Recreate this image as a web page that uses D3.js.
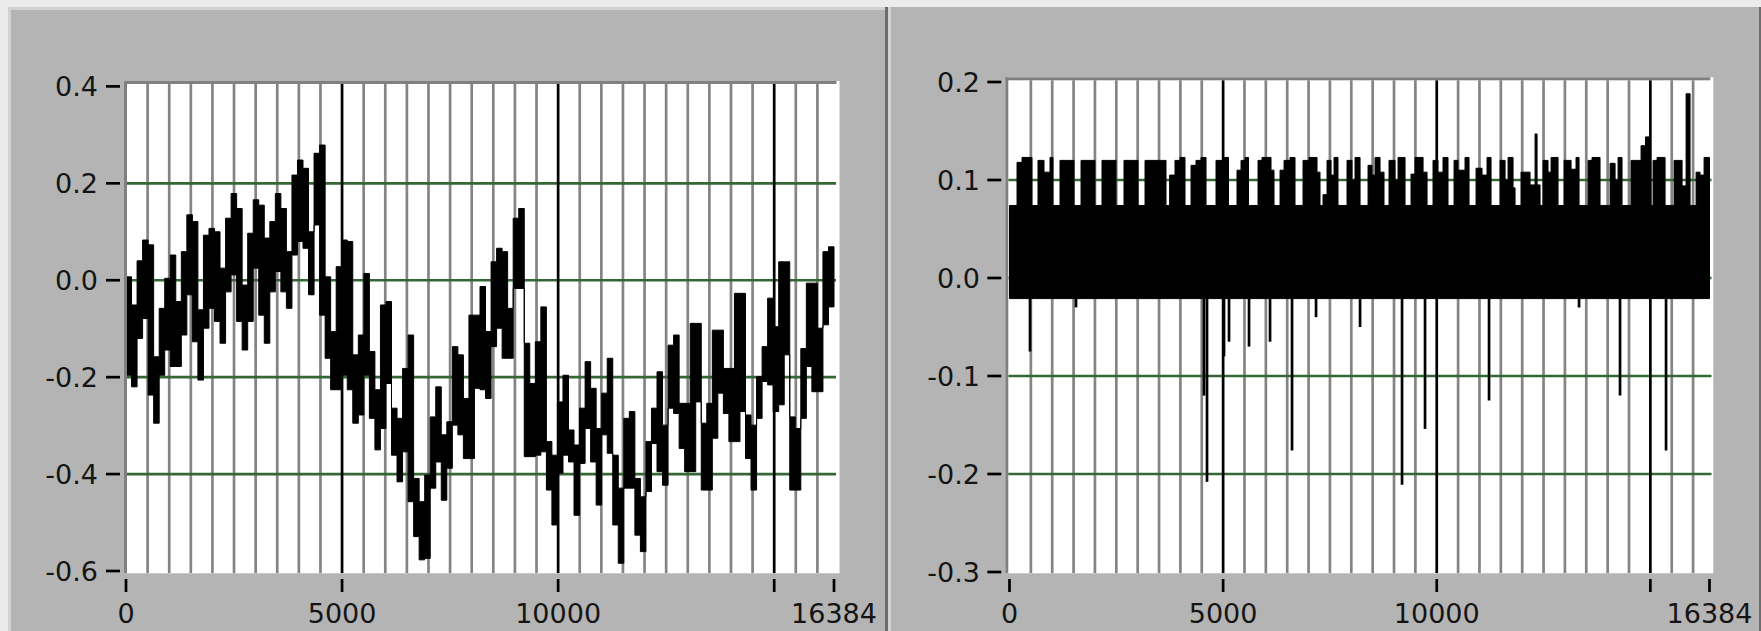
<!DOCTYPE html>
<html>
<head>
<meta charset="UTF-8">
<title>Waveform graphs</title>
<style>
  body { margin: 0; background: #ebebeb; }
  svg { display: block; }
  text { font-family: "DejaVu Sans", sans-serif; font-size: 27px; fill: #141414; }
</style>
</head>
<body>
<svg id="chart" width="1761" height="631"></svg>
<script src="https://cdn.jsdelivr.net/npm/d3@7"></script>
<script>
// record length and envelope bin size (samples)
const nSamples = 16384;
const binSize = 128;

// left graph: max / min of the trace in each 128-sample bin
const leftMax = [
  0.007, -0.051, 0.040, 0.083, 0.073, -0.158, -0.058, 0.004, 0.052, -0.044, 0.059, 0.135, 0.121, -0.061, 0.093, 0.107,
  0.100, 0.025, 0.128, 0.179, 0.148, -0.010, 0.097, 0.166, 0.155, 0.087, 0.121, 0.179, 0.148, 0.059, 0.217, 0.248,
  0.231, 0.100, 0.262, 0.279, 0.007, -0.106, 0.028, 0.083, 0.080, -0.154, -0.113, 0.014, -0.147, -0.226, -0.051, -0.044,
  -0.264, -0.285, -0.182, -0.113, -0.409, -0.457, -0.402, -0.282, -0.220, -0.319, -0.292, -0.137, -0.154, -0.244, -0.072, -0.072,
  -0.013, -0.106, 0.038, 0.066, 0.059, -0.058, 0.128, 0.148, -0.130, -0.213, -0.127, -0.055, -0.333, -0.361, -0.251, -0.196,
  -0.309, -0.340, -0.264, -0.168, -0.223, -0.306, -0.233, -0.161, -0.361, -0.429, -0.285, -0.271, -0.409, -0.447, -0.333, -0.264,
  -0.189, -0.299, -0.134, -0.113, -0.254, -0.254, -0.089, -0.089, -0.295, -0.254, -0.103, -0.103, -0.182, -0.182, -0.027, -0.027,
  -0.278, -0.299, -0.199, -0.137, -0.037, -0.096, 0.038, 0.038, -0.282, -0.306, -0.141, -0.006, -0.006, -0.099, 0.059, 0.069
];
const leftMin = [
  -0.196, -0.220, -0.120, -0.079, -0.237, -0.295, -0.196, -0.144, -0.178, -0.178, -0.113, -0.030, -0.127, -0.206, -0.099, -0.058,
  -0.085, -0.130, -0.024, 0.011, -0.085, -0.144, -0.085, 0.025, -0.072, -0.130, -0.024, 0.018, -0.024, -0.058, 0.052, 0.080,
  0.066, -0.030, 0.114, -0.072, -0.161, -0.226, -0.226, -0.196, -0.226, -0.295, -0.278, -0.196, -0.285, -0.350, -0.306, -0.213,
  -0.361, -0.416, -0.354, -0.457, -0.529, -0.577, -0.574, -0.429, -0.375, -0.454, -0.388, -0.299, -0.319, -0.368, -0.368, -0.223,
  -0.226, -0.244, -0.137, -0.099, -0.161, -0.161, -0.017, -0.017, -0.364, -0.364, -0.361, -0.354, -0.433, -0.505, -0.398, -0.361,
  -0.375, -0.485, -0.378, -0.306, -0.375, -0.464, -0.319, -0.357, -0.505, -0.584, -0.429, -0.429, -0.526, -0.560, -0.436, -0.337,
  -0.395, -0.423, -0.264, -0.275, -0.347, -0.395, -0.395, -0.251, -0.433, -0.433, -0.326, -0.233, -0.275, -0.333, -0.333, -0.271,
  -0.368, -0.433, -0.285, -0.209, -0.216, -0.271, -0.257, -0.154, -0.433, -0.433, -0.285, -0.178, -0.230, -0.230, -0.092, -0.055
];

// right graph: dense band between these two levels
const rightBandLow = -0.021;
// upper edge of the right trace: [sample where it changes, new level]
const rightTop = [
  [0, 0.074], [176, 0.118], [293, 0.123], [527, 0.074], [667, 0.120], [808, 0.108], [948, 0.123], [1018, 0.074],
  [1182, 0.120], [1510, 0.074], [1674, 0.120], [2001, 0.074], [2165, 0.120], [2493, 0.074], [2680, 0.120], [3008, 0.074],
  [3172, 0.120], [3663, 0.074], [3748, 0.105], [3874, 0.120], [3991, 0.123], [4108, 0.074], [4249, 0.115], [4365, 0.120],
  [4483, 0.123], [4600, 0.074], [4834, 0.120], [5021, 0.123], [5126, 0.074], [5325, 0.110], [5419, 0.120], [5513, 0.123],
  [5594, 0.074], [5817, 0.120], [5910, 0.123], [6121, 0.110], [6191, 0.074], [6332, 0.110], [6426, 0.120], [6566, 0.123],
  [6683, 0.074], [6870, 0.120], [7011, 0.123], [7198, 0.108], [7268, 0.074], [7338, 0.085], [7432, 0.120], [7526, 0.105],
  [7596, 0.123], [7689, 0.074], [7900, 0.120], [8017, 0.100], [8087, 0.123], [8205, 0.074], [8392, 0.115], [8485, 0.105],
  [8555, 0.123], [8673, 0.108], [8766, 0.074], [8883, 0.120], [9024, 0.100], [9094, 0.123], [9258, 0.074], [9398, 0.106],
  [9492, 0.123], [9680, 0.108], [9773, 0.074], [9913, 0.120], [10030, 0.108], [10147, 0.123], [10264, 0.074], [10405, 0.120],
  [10498, 0.110], [10662, 0.123], [10756, 0.074], [10920, 0.112], [11060, 0.105], [11177, 0.123], [11271, 0.074], [11482, 0.120],
  [11599, 0.100], [11669, 0.123], [11786, 0.092], [11833, 0.074], [11973, 0.108], [12184, 0.095], [12301, 0.147], [12348, 0.095],
  [12418, 0.074], [12488, 0.120], [12605, 0.108], [12676, 0.123], [12839, 0.074], [12980, 0.120], [13144, 0.111], [13260, 0.123],
  [13331, 0.074], [13542, 0.120], [13635, 0.123], [13822, 0.074], [14057, 0.117], [14174, 0.100], [14244, 0.123], [14337, 0.074],
  [14548, 0.120], [14782, 0.135], [14887, 0.144], [14993, 0.074], [15063, 0.120], [15157, 0.123], [15344, 0.074], [15555, 0.120],
  [15742, 0.094], [15836, 0.188], [15929, 0.074], [16070, 0.108], [16163, 0.105], [16257, 0.123]
];
// single-sample drops below the band: [sample, value]
const rightDips = [
  [480, -0.075], [1557, -0.030], [4553, -0.120], [4623, -0.208], [5021, -0.080], [5138, -0.065],
  [5606, -0.070], [6098, -0.065], [6613, -0.176], [7175, -0.040], [8205, -0.050], [9188, -0.211],
  [9726, -0.154], [11224, -0.125], [13331, -0.030], [14290, -0.120], [15367, -0.176]
];

// axes
const xTicks = [0, 5000, 10000, 15000, 16384];
const xTickLabels = ["0", "5000", "10000", "", "16384"];
const xMajorGrid = [5000, 10000, 15000];
const xMinorStep = 500;
const leftYTicks = [0.4, 0.2, 0.0, -0.2, -0.4, -0.6];
const rightYTicks = [0.2, 0.1, 0.0, -0.1, -0.2, -0.3];

const svg = d3.select("#chart");

// window background and the two graph panels
svg.append("rect").attr("x", 8).attr("y", 7).attr("width", 877).attr("height", 624).attr("fill", "#d2d2d2");
svg.append("rect").attr("x", 11).attr("y", 10).attr("width", 874).attr("height", 621).attr("fill", "#b4b4b4");
svg.append("rect").attr("x", 885).attr("y", 7).attr("width", 3).attr("height", 624).attr("fill", "#6c6c6c");
svg.append("rect").attr("x", 888).attr("y", 7).attr("width", 3).attr("height", 624).attr("fill", "#d2d2d2");
svg.append("rect").attr("x", 891).attr("y", 7).attr("width", 868).attr("height", 624).attr("fill", "#b4b4b4");
svg.append("rect").attr("x", 1759).attr("y", 7).attr("width", 2).attr("height", 624).attr("fill", "#6c6c6c");

function drawGraph(opt) {
  const { id, box, x, y, yTicks, yLabelX } = opt;
  const g = svg.append("g");

  // plot area
  g.append("rect")
    .attr("x", box.left).attr("y", box.top)
    .attr("width", box.right - box.left).attr("height", box.bottom - box.top)
    .attr("fill", "#fff");

  g.append("clipPath").attr("id", "clip-" + id)
    .append("rect")
    .attr("x", box.left + 3).attr("y", box.top + 3)
    .attr("width", box.right - box.left - 3).attr("height", box.bottom - box.top - 3);

  const inner = g.append("g").attr("clip-path", `url(#clip-${id})`);

  // minor x grid (gray) and major x grid (black)
  const minor = d3.range(xMinorStep, nSamples, xMinorStep).filter(v => !xMajorGrid.includes(v));
  inner.selectAll(".minor").data(minor).join("line")
    .attr("x1", d => x(d)).attr("x2", d => x(d))
    .attr("y1", box.top).attr("y2", box.bottom)
    .attr("stroke", "#848484").attr("stroke-width", 2.7);

  // y grid (green) on the inner ticks
  inner.selectAll(".ygrid").data(yTicks.slice(1, -1)).join("line")
    .attr("x1", box.left).attr("x2", x(nSamples) + 2)
    .attr("y1", d => y(d)).attr("y2", d => y(d))
    .attr("stroke", "#356735").attr("stroke-width", 2.7);

  inner.selectAll(".major").data(xMajorGrid).join("line")
    .attr("x1", d => x(d)).attr("x2", d => x(d))
    .attr("y1", box.top).attr("y2", box.bottom)
    .attr("stroke", "#000").attr("stroke-width", 2.7);

  // the trace
  const area = d3.area()
    .curve(d3.curveStepAfter)
    .x(d => x(d.i)).y0(d => y(d.lo)).y1(d => y(d.hi));
  inner.append("path")
    .datum(opt.band)
    .attr("d", area)
    .attr("fill", "#000").attr("stroke", "#000").attr("stroke-width", 1);

  if (opt.dips) {
    inner.selectAll(".dip").data(opt.dips).join("line")
      .attr("x1", d => x(d[0])).attr("x2", d => x(d[0]))
      .attr("y1", y(rightBandLow)).attr("y2", d => y(d[1]))
      .attr("stroke", "#000").attr("stroke-width", 2.7);
  }

  // frame: left and top edges only
  g.append("rect").attr("x", box.left).attr("y", box.top)
    .attr("width", 3).attr("height", box.bottom - box.top).attr("fill", "#808080");
  g.append("rect").attr("x", box.left).attr("y", box.top)
    .attr("width", box.right - box.left - 3).attr("height", 3).attr("fill", "#808080");

  // y ticks and labels
  g.selectAll(".ytick").data(yTicks).join("line")
    .attr("x1", box.left - 18).attr("x2", box.left - 4)
    .attr("y1", d => y(d)).attr("y2", d => y(d))
    .attr("stroke", "#000").attr("stroke-width", 2.7);
  g.selectAll(".ylab").data(yTicks).join("text")
    .attr("x", yLabelX).attr("y", d => y(d) + 10)
    .attr("text-anchor", "end")
    .text(d => d3.format(".1f")(d).replace("−", "-"));

  // x ticks and labels
  g.selectAll(".xtick").data(xTicks).join("line")
    .attr("x1", d => x(d)).attr("x2", d => x(d))
    .attr("y1", 579).attr("y2", 592)
    .attr("stroke", "#000").attr("stroke-width", 2.7);
  g.selectAll(".xlab").data(xTicks).join("text")
    .attr("x", d => x(d)).attr("y", 623)
    .attr("text-anchor", "middle")
    .text((d, i) => xTickLabels[i]);
}

// left graph
const xL = d3.scaleLinear().domain([0, nSamples]).range([126, 834]);
const yL = d3.scaleLinear().domain([-0.6, 0.4]).range([571, 86.4]);
const leftBand = leftMax.map((v, i) => ({ i: i * binSize, hi: v, lo: leftMin[i] }));
leftBand.push({ i: nSamples, hi: leftMax[leftMax.length - 1], lo: leftMin[leftMin.length - 1] });

drawGraph({
  id: "left",
  box: { left: 124, top: 81, right: 839.5, bottom: 573.3 },
  x: xL, y: yL, yTicks: leftYTicks, yLabelX: 98,
  band: leftBand
});

// right graph
const xR = d3.scaleLinear().domain([0, nSamples]).range([1009.5, 1709.5]);
const yR = d3.scaleLinear().domain([-0.3, 0.2]).range([572, 82]);
const rightBand = rightTop.map(d => ({ i: d[0], hi: d[1], lo: rightBandLow }));
rightBand.push({ i: nSamples, hi: rightTop[rightTop.length - 1][1], lo: rightBandLow });

drawGraph({
  id: "right",
  box: { left: 1005.3, top: 77.3, right: 1713.3, bottom: 573.3 },
  x: xR, y: yR, yTicks: rightYTicks, yLabelX: 980,
  band: rightBand, dips: rightDips
});
</script>
</body>
</html>
